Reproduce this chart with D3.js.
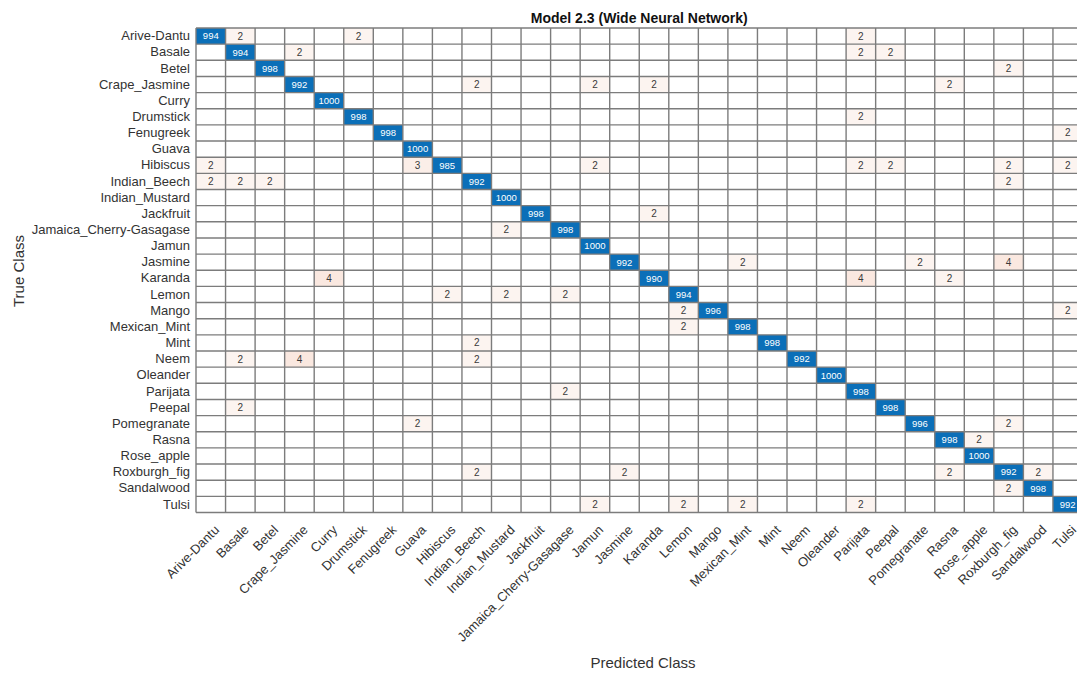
<!DOCTYPE html>
<html>
<head>
<meta charset="utf-8">
<script src="https://cdn.jsdelivr.net/npm/d3@7"></script>
<style>
  html, body { margin: 0; padding: 0; background: #fff; }
  svg { display: block; font-family: "Liberation Sans", Arial, sans-serif; }
</style>
</head>
<body>
<svg id="chart" width="1077" height="675"></svg>
<script>
// Class names (same order for true and predicted axes)
const classes = [
  "Arive-Dantu", "Basale", "Betel", "Crape_Jasmine", "Curry", "Drumstick",
  "Fenugreek", "Guava", "Hibiscus", "Indian_Beech", "Indian_Mustard", "Jackfruit",
  "Jamaica_Cherry-Gasagase", "Jamun", "Jasmine", "Karanda", "Lemon", "Mango",
  "Mexican_Mint", "Mint", "Neem", "Oleander", "Parijata", "Peepal",
  "Pomegranate", "Rasna", "Rose_apple", "Roxburgh_fig", "Sandalwood", "Tulsi"
];

// Correct predictions per class (diagonal)
const diagonal = [
  994, 994, 998, 992, 1000, 998, 998, 1000, 985, 992, 1000, 998,
  998, 1000, 992, 990, 994, 996, 998, 998, 992, 1000, 998, 998,
  996, 998, 1000, 992, 998, 992
];

// Misclassifications: [true class, predicted class, count]
const offDiagonal = [
  ["Arive-Dantu", "Basale", 2], ["Arive-Dantu", "Drumstick", 2], ["Arive-Dantu", "Parijata", 2],
  ["Basale", "Crape_Jasmine", 2], ["Basale", "Parijata", 2], ["Basale", "Peepal", 2],
  ["Betel", "Roxburgh_fig", 2],
  ["Crape_Jasmine", "Indian_Beech", 2], ["Crape_Jasmine", "Jamun", 2],
  ["Crape_Jasmine", "Karanda", 2], ["Crape_Jasmine", "Rasna", 2],
  ["Drumstick", "Parijata", 2],
  ["Fenugreek", "Tulsi", 2],
  ["Hibiscus", "Arive-Dantu", 2], ["Hibiscus", "Guava", 3], ["Hibiscus", "Jamun", 2],
  ["Hibiscus", "Parijata", 2], ["Hibiscus", "Peepal", 2], ["Hibiscus", "Roxburgh_fig", 2],
  ["Hibiscus", "Tulsi", 2],
  ["Indian_Beech", "Arive-Dantu", 2], ["Indian_Beech", "Basale", 2], ["Indian_Beech", "Betel", 2],
  ["Indian_Beech", "Roxburgh_fig", 2],
  ["Jackfruit", "Karanda", 2],
  ["Jamaica_Cherry-Gasagase", "Indian_Mustard", 2],
  ["Jasmine", "Mexican_Mint", 2], ["Jasmine", "Pomegranate", 2], ["Jasmine", "Roxburgh_fig", 4],
  ["Karanda", "Curry", 4], ["Karanda", "Parijata", 4], ["Karanda", "Rasna", 2],
  ["Lemon", "Hibiscus", 2], ["Lemon", "Indian_Mustard", 2], ["Lemon", "Jamaica_Cherry-Gasagase", 2],
  ["Mango", "Lemon", 2], ["Mango", "Tulsi", 2],
  ["Mexican_Mint", "Lemon", 2],
  ["Mint", "Indian_Beech", 2],
  ["Neem", "Basale", 2], ["Neem", "Crape_Jasmine", 4], ["Neem", "Indian_Beech", 2],
  ["Parijata", "Jamaica_Cherry-Gasagase", 2],
  ["Peepal", "Basale", 2],
  ["Pomegranate", "Guava", 2], ["Pomegranate", "Roxburgh_fig", 2],
  ["Rasna", "Rose_apple", 2],
  ["Roxburgh_fig", "Indian_Beech", 2], ["Roxburgh_fig", "Jasmine", 2],
  ["Roxburgh_fig", "Rasna", 2], ["Roxburgh_fig", "Sandalwood", 2],
  ["Sandalwood", "Roxburgh_fig", 2],
  ["Tulsi", "Jamun", 2], ["Tulsi", "Lemon", 2], ["Tulsi", "Mexican_Mint", 2],
  ["Tulsi", "Parijata", 2]
];

const titleText = "Model 2.3 (Wide Neural Network)";
const xTitle = "Predicted Class";
const yTitle = "True Class";

// ---- build cell list ----
const cells = [];
classes.forEach((c, i) => cells.push({ t: c, p: c, v: diagonal[i], diag: true }));
offDiagonal.forEach(([t, p, v]) => cells.push({ t, p, v, diag: false }));

// ---- layout ----
const svg = d3.select("#chart");
const plotLeft = 196, plotTop = 28;
const cellW = 29.55, cellH = 16.15;
const plotW = cellW * classes.length, plotH = cellH * classes.length;

const x = d3.scaleBand().domain(classes).range([plotLeft, plotLeft + plotW]).padding(0);
const y = d3.scaleBand().domain(classes).range([plotTop, plotTop + plotH]).padding(0);

const offColor = d3.scaleLinear().domain([0, 30]).range(["#ffffff", "#d95319"]).clamp(true);
const diagColor = "#0b6fb8";

// background cells
const g = svg.append("g");
g.selectAll("rect.cell")
  .data(cells)
  .join("rect")
  .attr("class", "cell")
  .attr("x", d => x(d.p))
  .attr("y", d => y(d.t))
  .attr("width", x.bandwidth())
  .attr("height", y.bandwidth())
  .attr("fill", d => d.diag ? diagColor : offColor(d.v));

// grid lines
const grid = svg.append("g").attr("stroke", "#7c7c7c").attr("stroke-width", 1.4);
d3.range(classes.length + 1).forEach(i => {
  const gx = plotLeft + i * x.step();
  grid.append("line").attr("x1", gx).attr("x2", gx).attr("y1", plotTop).attr("y2", plotTop + plotH);
  const gy = plotTop + i * y.step();
  grid.append("line").attr("x1", plotLeft).attr("x2", plotLeft + plotW).attr("y1", gy).attr("y2", gy);
});

// cell values
svg.append("g").selectAll("text.val")
  .data(cells)
  .join("text")
  .attr("class", "val")
  .attr("x", d => x(d.p) + x.bandwidth() / 2)
  .attr("y", d => y(d.t) + y.bandwidth() / 2)
  .attr("dy", "0.35em")
  .attr("text-anchor", "middle")
  .attr("font-size", d => d.diag ? 9.5 : 10)
  .attr("fill", d => d.diag ? "#ffffff" : "#3a3a3a")
  .text(d => d.v);

// y axis (true class)
const yAxis = svg.append("g")
  .attr("transform", `translate(${plotLeft},0)`)
  .call(d3.axisLeft(y).tickSize(0).tickPadding(6));
yAxis.select(".domain").remove();
yAxis.selectAll("text")
  .attr("font-size", 13)
  .attr("font-family", "Liberation Sans, Arial, sans-serif")
  .attr("fill", "#333");

// x axis (predicted class)
const xAxis = svg.append("g")
  .attr("transform", `translate(0,${plotTop + plotH})`)
  .call(d3.axisBottom(x).tickSize(0).tickPadding(0));
xAxis.select(".domain").remove();
xAxis.selectAll("text")
  .attr("font-size", 13)
  .attr("font-family", "Liberation Sans, Arial, sans-serif")
  .attr("fill", "#333")
  .attr("text-anchor", "end")
  .attr("dy", "0.35em")
  .attr("transform", "translate(6,15) rotate(-45)");

// titles
svg.append("text")
  .attr("x", plotLeft + plotW / 2)
  .attr("y", 23)
  .attr("text-anchor", "middle")
  .attr("font-size", 14)
  .attr("font-weight", "bold")
  .attr("fill", "#111")
  .text(titleText);

svg.append("text")
  .attr("x", 643)
  .attr("y", 668)
  .attr("text-anchor", "middle")
  .attr("font-size", 15)
  .attr("fill", "#333")
  .text(xTitle);

svg.append("text")
  .attr("transform", "translate(24,271) rotate(-90)")
  .attr("text-anchor", "middle")
  .attr("font-size", 15)
  .attr("fill", "#333")
  .text(yTitle);
</script>
</body>
</html>
